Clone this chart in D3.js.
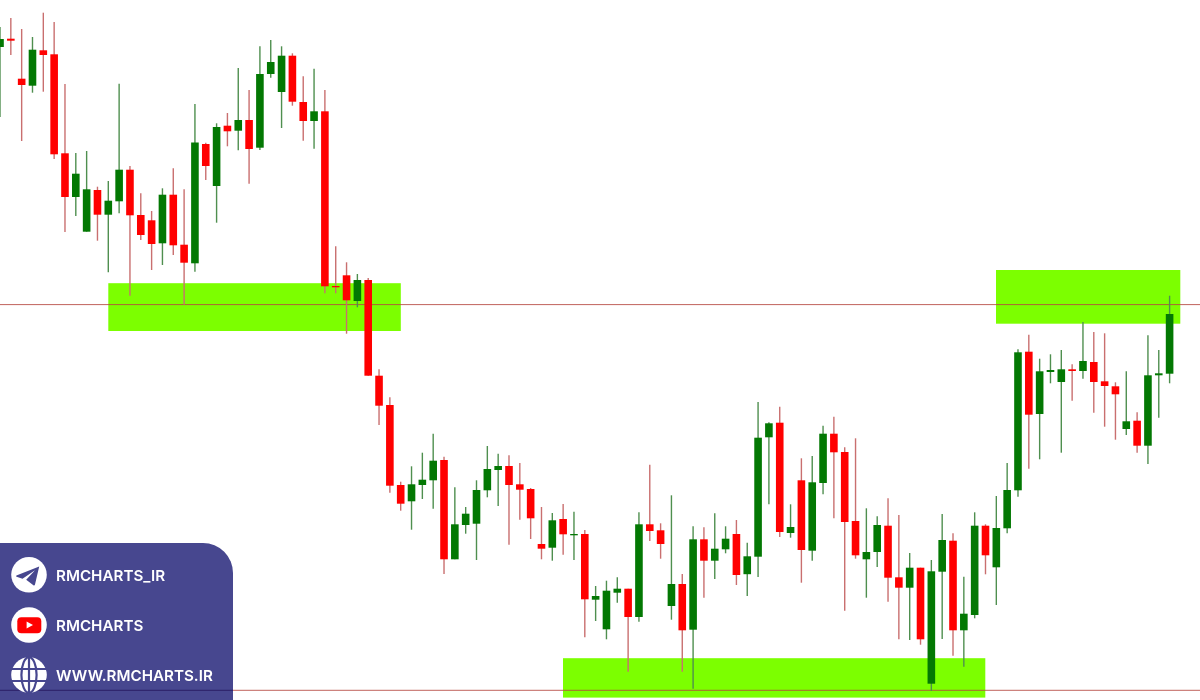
<!DOCTYPE html>
<html><head><meta charset="utf-8">
<style>html,body{margin:0;padding:0;background:#fff}svg{display:block;filter:blur(.35px)}</style>
<script src="https://cdn.jsdelivr.net/npm/d3@7/dist/d3.min.js"></script>
</head><body><div id="chart"></div>
<script>
// Levels, in picture-height units (0 = top, 700 = bottom).
const wickTop = [27,18,29,37,12.7,22,84,153,151,186.7,181,83.7,166,193.3,211,188.3,168.3,189.3,104,142.7,123.3,113,68,90,46.3,40,46.3,53.3,76.3,68.7,90,246.3,262.3,274,278,369.3,397.3,481.7,466.3,452.7,433.7,456.7,487.3,507,480.3,446,453.7,455.3,463,488,507,513,504,511.7,530,586,580.7,577.3,588.7,512.3,464.7,523.3,495.3,574,526.3,527.3,513.3,526.3,520,542.7,402,422.3,406.7,504.3,458.3,456,425.7,416.7,447.3,438.3,508.3,516.3,498.3,515,553,567.7,560,514,533.3,576.7,512.3,524.3,496,463,349.3,334.7,358.7,354.3,350,364.3,322,332,333.3,382.3,371.3,412.3,335.3,350,295.7];
const bodyTop = [39,38.7,78.7,49.7,50.3,54.3,153.3,173.7,189.3,190,200.7,169.7,169.7,215,220.3,194.7,194.7,244.7,142.5,144,127,125.7,120,120,74,62,55.7,55.7,102,111.3,111.3,286,275.3,280,280,375.7,405,485,484.3,479.7,460.7,460,524.3,513.7,490,469,466,466,484.3,489,544,520.3,519,534,534,596,590.7,588.7,588.7,524.3,524.3,530.3,584,584,539.3,539.3,548.7,538.7,534,556.3,437.7,423.3,422.7,527,480.3,482.3,433.7,433.7,452,521,552,525,525.7,577.3,567.7,567.7,571.3,540,540.7,613.7,525.7,525.7,528,490,352.3,351.7,371.3,370,369.3,369.3,361,362,381.3,386.3,421.3,420.7,375.3,373.3,314];
const bodyBottom = [47,40.7,85,85.7,55,154.3,197,197,231.7,214.7,214.7,201.3,215.3,235,244,243.3,245.3,262.7,263.3,166,186,131.3,130.7,149,147.7,74,92,101.7,121,121,286.3,287.3,300.3,301,375.7,405.7,485.7,503.7,501.3,485,480.3,559.3,559.3,525,523.7,490.3,470,485,489.7,518.3,548.7,547.7,534.3,535.3,599.3,599.7,629.3,592.7,617,617,531,544,606,630.3,629.7,560.7,560.7,549.3,575,574.2,556.7,437.3,532,533,550,550.7,483,452.3,522,555.3,559.3,552,577.7,587.7,587.7,639.3,683.7,571.7,630.3,630.3,615,555.3,567.3,528.3,490.3,414.7,414,372,382,371,371,382,386,394.3,429,445.7,445.7,375.3,373.7];
const wickBottom = [117,55,141,92.7,91.7,159,232,216,231.7,240.7,272.3,213.3,295.7,240,270,265,255,304.7,271.7,180,222.7,146.3,150.3,183.7,150,77.7,128,105.7,140.7,148.7,293.3,293.3,333.7,307.3,375.7,425,492.7,510.7,529.7,499,508.7,574,559.3,533.7,560,497.3,506,544.7,519.7,539,559.3,560.7,554.7,560,637.3,621,639.3,602.7,671.7,621.7,541,558.7,619.7,671.7,688.7,597.7,579,553.3,585,596,577,504.3,537,537.7,582.7,560.7,494.3,518.3,610.7,558.7,597.7,567,601.7,639.3,640,644.7,691,639,655.7,666.7,618.3,574.3,605,533.3,496.7,468.7,459.3,383.3,452.7,400.7,378.7,412.7,426.7,439.7,435,452.7,464,417.7,383.3];
const directions = [
 "u","d","d","u","d","d","d","u","u","d",
 "u","u","d","d","d","u","d","d","u","d",
 "u","d","u","d","u","u","u","d","d","u",
 "d","d","d","u","d","d","d","d","u","u",
 "u","d","u","u","u","u","u","d","d","d",
 "d","u","d","u","d","u","u","u","d","u",
 "d","d","u","d","u","d","u","u","d","u",
 "u","u","d","u","d","u","u","d","d","d",
 "u","u","d","d","u","d","u","u","d","u",
 "u","d","u","u","u","d","u","u","u","d",
 "u","d","d","d","u","d","u","u","u"];
const zoneLeft = [108.3,563,996];
const zoneRight = [400.8,985.3,1180.3];
const zoneTop = [283.2,658.2,270];
const zoneBottom = [331,697.6,323.7];
const levels = [304.6,690.3];
const handles = ["RMCHARTS_IR","RMCHARTS","WWW.RMCHARTS.IR"];

const W=1200,H=700;
const count = wickTop.length;
const categories = d3.range(count);
const x = d3.scaleLinear().domain([0,count-1]).range([0,1169.6]);
const y = d3.scaleLinear().domain([0,H]).range([0,H]);
const RED="#ff0000",GREEN="#037803",PANEL="#47478f";
const svg = d3.select("#chart").append("svg").attr("width",W).attr("height",H);

svg.append("g").selectAll("rect").data(zoneLeft).join("rect")
  .attr("x",d=>d).attr("width",(d,i)=>zoneRight[i]-d)
  .attr("y",(d,i)=>y(zoneTop[i])).attr("height",(d,i)=>y(zoneBottom[i])-y(zoneTop[i]))
  .attr("fill","#7cff00");

svg.append("g").selectAll("line").data(levels).join("line")
  .attr("x1",0).attr("x2",W).attr("y1",d=>y(d)).attr("y2",d=>y(d))
  .attr("stroke","#b5473f").attr("stroke-opacity",.85).attr("stroke-width",1);

const isUp = i => directions[i]==="u";
svg.append("g").selectAll("line").data(categories).join("line")
  .attr("x1",i=>x(i)).attr("x2",i=>x(i))
  .attr("y1",i=>y(wickTop[i])).attr("y2",i=>y(wickBottom[i]))
  .attr("stroke",i=>isUp(i)?"#4f8f4f":"#c96f6f").attr("stroke-width",1.4);
svg.append("g").selectAll("rect").data(categories).join("rect")
  .attr("x",i=>x(i)-3.8).attr("width",7.6)
  .attr("y",i=>y(bodyTop[i])).attr("height",i=>Math.max(1,y(bodyBottom[i])-y(bodyTop[i])))
  .attr("fill",i=>isUp(i)?GREEN:RED);

// Contact panel
const panel = svg.append("g");
panel.append("path").attr("d","M0,543H203A30,30 0 0 1 233,573V700H0Z").attr("fill",PANEL);
panel.append("line").attr("x1",0).attr("x2",233).attr("y1",y(levels[1])).attr("y2",y(levels[1]))
  .attr("stroke","#2b1f66").attr("stroke-width",1);
const iconY=[574.8,625,675];
panel.selectAll("circle.c").data(iconY).join("circle").attr("class","c")
  .attr("cx",29).attr("cy",d=>d).attr("r",17.8).attr("fill","#fff");
panel.append("path").attr("d","M39.2,566.4L16.4,575.6Q15.6,576.3 16.6,576.8L22.5,578.7L35,570.2L26.2,579.8L33.4,585.2Q34.6,585.8 35,584.4Z").attr("fill",PANEL);
panel.append("rect").attr("x",17.3).attr("y",617.3).attr("width",24).attr("height",16).attr("rx",4).attr("fill","#f00");
panel.append("path").attr("d","M26.6,621.6L33,625L26.6,628.4Z").attr("fill","#fff");
const globe = panel.append("g").attr("fill","none").attr("stroke",PANEL).attr("stroke-width",2.2);
globe.append("ellipse").attr("cx",29).attr("cy",675).attr("rx",7.6).attr("ry",17.8);
globe.append("line").attr("x1",29).attr("x2",29).attr("y1",657).attr("y2",693);
globe.append("line").attr("x1",11).attr("x2",47).attr("y1",669).attr("y2",669);
globe.append("line").attr("x1",11).attr("x2",47).attr("y1",681).attr("y2",681);
panel.selectAll("text").data(handles).join("text")
  .attr("x",56).attr("y",(d,i)=>[581,631,681][i])
  .attr("font-family","Inter, 'Open Sans', sans-serif").attr("font-weight",600).attr("font-size",15.2)
  .attr("fill","#fff").text(d=>d);
</script></body></html>
